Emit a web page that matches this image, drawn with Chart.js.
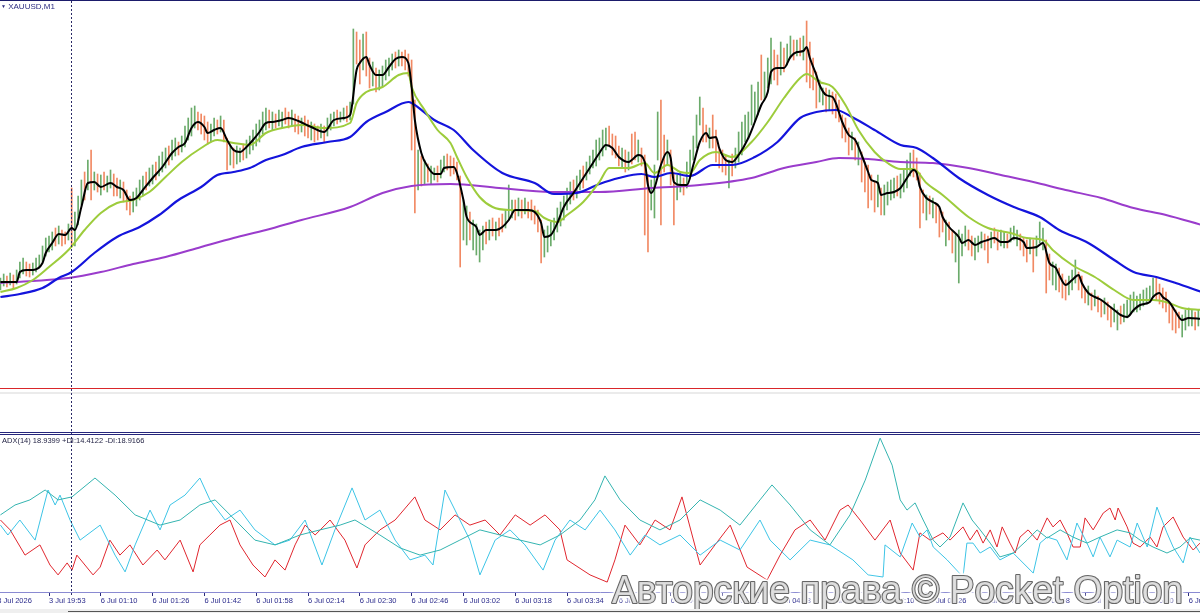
<!DOCTYPE html>
<html><head><meta charset="utf-8">
<script src="https://cdn.jsdelivr.net/npm/chart.js@4.4.1/dist/chart.umd.min.js"></script>
<style>
html,body{margin:0;padding:0;background:#fff;width:1200px;height:613px;overflow:hidden;position:relative;font-family:"Liberation Sans",Arial,sans-serif}
canvas{position:absolute;left:0}
#c1{top:0}
#c2{top:436px}
.hl{position:absolute;left:0;width:1200px}
.txt{position:absolute;white-space:nowrap;font-family:"Liberation Sans",Arial,sans-serif}
</style></head><body>
<canvas id="c1" width="1200" height="436"></canvas>
<canvas id="c2" width="1200" height="177"></canvas>
<div class="hl" style="top:0;height:1px;background:#1b1b6b"></div>
<div class="hl" style="top:432px;height:1px;background:#25257c"></div>
<div class="hl" style="top:434px;height:1px;background:#25257c"></div>
<div class="hl" style="top:609px;height:4px;background:#efefef"></div>
<div style="position:absolute;left:68px;top:611px;width:1132px;height:1px;background:#555"></div>
<div class="txt" style="left:1px;top:2px;font-size:8px;color:#2b2b80"><span style="font-size:5px;vertical-align:1px">&#9660;</span> XAUUSD,M1</div>
<div class="txt" style="left:2px;top:436px;font-size:7.5px;color:#1e1e40">ADX(14) 18.9399 +DI:14.4122 -DI:18.9166</div>
<script>
// ---------- DATA ----------
const tickLabels = ["3 Jul 2026","3 Jul 19:53","6 Jul 01:10","6 Jul 01:26","6 Jul 01:42","6 Jul 01:58","6 Jul 02:14","6 Jul 02:30","6 Jul 02:46","6 Jul 03:02","6 Jul 03:18","6 Jul 03:34","6 Jul 03:50","6 Jul 04:06","6 Jul 04:22","6 Jul 04:38","6 Jul 04:54","6 Jul 05:10","6 Jul 05:26","6 Jul 05:42","6 Jul 05:58","6 Jul 06:14","6 Jul 06:30","6 Jul 06:46"];
const barsPerLabel = 16;

const high = [
3224,3222,3226,3224,3227,3225,3230,3238,3242,3238,3236,3237,3242,3245,3254,3262,
3264,3268,3272,3274,3270,3268,3276,3312,3288,3304,3320,3328,3340,3350,3328,3326,
3325,3328,3324,3330,3326,3322,3320,3318,3310,3304,3308,3312,3320,3324,3328,3332,
3335,3338,3344,3348,3352,3354,3360,3362,3358,3364,3374,3382,3392,3394,3388,3386,
3384,3378,3376,3382,3380,3384,3380,3362,3354,3352,3354,3352,3356,3360,3364,3370,
3376,3380,3388,3392,3390,3388,3386,3390,3388,3392,3388,3390,3386,3384,3382,3384,
3380,3378,3376,3374,3376,3374,3382,3386,3388,3390,3388,3392,3394,3398,3471,3468,
3460,3466,3468,3442,3438,3432,3430,3434,3440,3442,3446,3448,3450,3448,3450,3446,
3440,3400,3350,3344,3340,3336,3334,3332,3334,3340,3344,3346,3344,3342,3338,3324,
3300,3294,3288,3280,3276,3270,3274,3278,3280,3282,3278,3282,3286,3290,3315,3300,
3300,3302,3300,3302,3298,3300,3294,3290,3280,3270,3274,3278,3282,3292,3298,3304,
3312,3318,3320,3324,3330,3334,3338,3344,3350,3360,3362,3370,3372,3374,3366,3364,
3354,3352,3350,3348,3366,3368,3360,3352,3345,3325,3320,3335,3388,3400,3365,3360,
3350,3328,3325,3328,3322,3338,3350,3364,3385,3403,3392,3375,3372,3385,3370,3352,
3350,3345,3340,3346,3352,3368,3378,3385,3388,3415,3408,3418,3445,3428,3442,3462,
3450,3445,3458,3452,3456,3464,3460,3460,3462,3464,3479,3458,3442,3428,3420,3412,
3412,3410,3408,3406,3400,3385,3382,3372,3368,3362,3358,3348,3338,3335,3325,3318,
3325,3312,3315,3318,3320,3322,3324,3326,3330,3340,3347,3350,3342,3327,3310,3305,
3304,3302,3297,3292,3288,3280,3278,3270,3266,3270,3266,3274,3270,3264,3262,3264,
3268,3266,3264,3268,3272,3268,3270,3268,3266,3272,3274,3270,3266,3262,3260,3262,
3260,3264,3278,3272,3260,3246,3238,3236,3232,3226,3220,3224,3230,3240,3228,3224,
3212,3214,3207,3210,3204,3200,3202,3198,3193,3196,3190,3194,3196,3200,3205,3208,
3204,3206,3210,3212,3214,3222,3222,3216,3212,3208,3197,3195,3190,3188,3185,3190,3192,3190,3188,3190];

const low = [
3212,3210,3214,3213,3215,3211,3216,3222,3226,3224,3223,3225,3228,3232,3238,3244,
3248,3250,3254,3256,3254,3256,3260,3253,3254,3275,3295,3300,3310,3300,3310,3308,
3305,3310,3308,3312,3304,3304,3302,3298,3290,3285,3288,3294,3300,3304,3310,3314,
3316,3320,3324,3328,3332,3335,3340,3344,3345,3348,3353,3360,3364,3372,3370,3366,
3360,3356,3358,3364,3366,3368,3358,3330,3335,3332,3336,3338,3340,3342,3346,3350,
3354,3358,3366,3370,3372,3370,3372,3374,3372,3376,3372,3374,3368,3366,3368,3364,
3362,3360,3358,3360,3362,3358,3364,3370,3374,3376,3378,3380,3378,3380,3396,3436,
3416,3430,3424,3412,3414,3408,3410,3414,3420,3424,3430,3432,3434,3434,3430,3424,
3350,3287,3310,3314,3316,3318,3316,3320,3318,3322,3328,3330,3324,3326,3320,3233,
3260,3255,3260,3250,3245,3238,3250,3256,3260,3264,3260,3264,3268,3272,3280,3282,
3280,3284,3282,3286,3282,3280,3276,3268,3237,3243,3248,3254,3260,3268,3274,3280,
3290,3296,3300,3302,3310,3312,3320,3326,3332,3334,3340,3344,3350,3354,3345,3342,
3334,3332,3328,3330,3336,3340,3338,3334,3265,3248,3290,3282,3340,3275,3328,3335,
3315,3275,3300,3308,3305,3312,3325,3340,3352,3375,3358,3358,3352,3352,3338,3332,
3328,3325,3312,3324,3332,3338,3345,3358,3362,3375,3378,3385,3400,3400,3412,3416,
3420,3415,3425,3428,3435,3442,3440,3444,3444,3440,3418,3412,3410,3392,3398,3395,
3388,3390,3386,3382,3378,3362,3358,3345,3350,3340,3335,3318,3308,3292,3300,3288,
3293,3285,3285,3295,3300,3302,3304,3302,3308,3312,3324,3323,3320,3272,3287,3280,
3286,3282,3277,3263,3268,3254,3260,3247,3238,3217,3244,3254,3250,3244,3240,3248,
3252,3250,3237,3252,3257,3250,3254,3252,3252,3258,3260,3254,3250,3244,3238,3246,
3228,3244,3257,3250,3207,3220,3215,3210,3208,3202,3200,3205,3210,3217,3210,3202,
3197,3195,3190,3194,3188,3183,3186,3180,3173,3178,3170,3176,3178,3182,3186,3188,
3188,3190,3194,3196,3198,3203,3200,3196,3192,3188,3177,3170,3167,3172,3163,3170,3174,3174,3170,3174];

// bar direction: g = close above open, r = close below open
const dir = ["rggrgrgggrrggggg","ggrgrrgrgggrgrgr","grggrrgrrrggggrg","grgggrggrgggggrr",
"rrggrgrrgrggrggg","ggggrgrggrrgrrgr","rgrrgrgggrggrggr","rgrrgrgggggrgrrr",
"rrgrgrggrggrrrrr","ggrggggrgrgrrggg","rgrgrrrrrggggggg","ggrggrgggggggrrr",
"rgrgrrgrrrgggrrg","rrggrgggggrrgrrr","rrgrggggggggrggg","rrgrggrgrgrrrrgg",
"rgrrrrrrgrgrrrrr","grggggrggggrrrrg","rgrrrgrrggggrrgg","grrgrrggrgggrrrg",
"rgggrrggrrrgggrr","rgrgrrgrrggrgggg","ggggggrrrrrrrrggggrg"].join("");

// moving averages: [bar index, price]
const maFast = [[1,3218],[6,3218],[7,3228],[9,3230],[11,3230],[14,3237],[15,3247],[17,3257],[19,3266],[21,3265],[23,3272],[24,3270],[26,3293],[28,3317],[30,3318],[32,3313],[35,3317],[37,3313],[39,3310],[41,3300],[43,3302],[45,3310],[48,3322],[51,3333],[54,3347],[56,3353],[58,3357],[60,3372],[62,3378],[64,3373],[65,3367],[67,3370],[69,3372],[71,3360],[73,3350],[75,3348],[77,3353],[79,3360],[81,3368],[83,3377],[85,3378],[88,3380],[90,3382],[93,3379],[97,3373],[101,3368],[104,3380],[107,3382],[109,3385],[111,3430],[112,3437],[114,3443],[115,3435],[117,3425],[119,3425],[121,3433],[123,3441],[125,3443],[127,3437],[128,3413],[129,3380],[131,3347],[133,3333],[135,3326],[137,3326],[138,3332],[141,3333],[142,3327],[144,3300],[145,3283],[148,3273],[149,3265],[151,3270],[154,3270],[156,3273],[158,3280],[160,3290],[164,3290],[166,3288],[168,3277],[169,3263],[171,3265],[173,3277],[175,3293],[178,3307],[181,3322],[184,3337],[186,3347],[188,3355],[190,3352],[192,3343],[195,3338],[196,3340],[198,3345],[200,3338],[201,3315],[202,3307],[203,3312],[205,3335],[207,3348],[208,3342],[209,3318],[211,3315],[213,3315],[215,3335],[217,3358],[219,3367],[220,3362],[222,3363],[223,3352],[225,3340],[227,3338],[229,3345],[232,3362],[234,3378],[236,3395],[238,3408],[239,3428],[241,3432],[243,3432],[245,3443],[247,3448],[249,3449],[250,3453],[251,3442],[253,3425],[254,3415],[256,3405],[258,3403],[259,3397],[261,3378],[263,3365],[265,3360],[267,3345],[269,3328],[270,3320],[272,3317],[273,3305],[275,3307],[277,3308],[279,3312],[281,3322],[283,3330],[284,3327],[285,3313],[287,3302],[289,3298],[291,3293],[292,3283],[294,3273],[297,3263],[298,3257],[300,3260],[302,3255],[304,3258],[306,3260],[308,3262],[310,3258],[312,3258],[314,3262],[317,3258],[318,3252],[321,3253],[323,3257],[325,3237],[327,3232],[328,3225],[330,3215],[332,3220],[334,3225],[335,3217],[337,3207],[339,3203],[341,3200],[343,3195],[345,3190],[347,3185],[349,3183],[351,3190],[353,3195],[356,3198],[357,3203],[359,3207],[360,3203],[362,3198],[364,3188],[366,3180],[368,3182],[372,3181]];
const maMid = [[1,3208],[6,3212],[11,3220],[16,3233],[22,3250],[27,3270],[32,3287],[37,3297],[42,3300],[47,3308],[52,3323],[57,3338],[63,3352],[68,3360],[73,3357],[78,3355],[83,3367],[88,3372],[94,3375],[101,3372],[109,3377],[111,3397],[114,3408],[119,3413],[124,3425],[127,3427],[128,3413],[132,3390],[136,3370],[140,3357],[142,3343],[145,3323],[149,3303],[153,3293],[158,3290],[166,3289],[169,3282],[173,3278],[176,3285],[181,3298],[186,3318],[189,3332],[195,3332],[200,3337],[203,3327],[207,3335],[211,3328],[214,3327],[217,3340],[222,3348],[227,3343],[233,3358],[238,3378],[243,3402],[248,3422],[250,3426],[254,3418],[258,3413],[262,3395],[266,3370],[271,3348],[275,3337],[279,3331],[283,3331],[287,3317],[292,3305],[300,3283],[306,3272],[313,3267],[318,3262],[323,3260],[326,3250],[332,3235],[339,3223],[345,3210],[351,3200],[357,3200],[361,3198],[366,3192],[372,3190]];
const maSlow = [[1,3203],[7,3206],[14,3212],[19,3222],[23,3228],[30,3247],[37,3263],[44,3273],[50,3285],[56,3300],[63,3313],[68,3325],[73,3328],[78,3332],[83,3340],[88,3345],[94,3353],[102,3358],[109,3363],[114,3378],[120,3388],[127,3398],[128,3397],[135,3380],[141,3370],[147,3350],[156,3327],[166,3317],[172,3306],[179,3307],[186,3316],[192,3322],[199,3326],[203,3323],[208,3327],[214,3324],[221,3335],[227,3335],[234,3343],[241,3358],[248,3382],[253,3388],[259,3390],[264,3383],[272,3368],[279,3355],[284,3352],[289,3342],[297,3322],[306,3305],[314,3293],[322,3283],[328,3270],[337,3257],[345,3240],[351,3228],[358,3223],[364,3217],[372,3208]];
const maLong = [[1,3217],[11,3219],[22,3222],[32,3228],[42,3236],[52,3243],[63,3253],[73,3262],[83,3270],[94,3280],[109,3293],[119,3307],[128,3314],[140,3316],[155,3312],[171,3308],[186,3308],[202,3312],[217,3315],[233,3322],[243,3332],[253,3338],[260,3342],[269,3341],[279,3338],[289,3337],[300,3332],[310,3325],[320,3318],[330,3310],[341,3302],[351,3292],[361,3285],[372,3275]];
const levelLine = 3112;
const levelLine2 = 3107;
const markerBar = 22.8;

// ADX(14): [bar index, value]
const adxMain = [[1,25.7],[5.5,29],[10.1,30.7],[14.8,34],[18.8,30.7],[23.1,31.7],[30.2,38],[36.4,32.3],[42.6,25.7],[50.3,22.3],[56.5,24],[62.6,29],[67.3,30.7],[73.5,24],[79.6,17.3],[85.8,15.7],[93.5,19],[99.7,20.7],[105.9,22.3],[110.5,24],[118.2,19],[124.4,14.7],[130.6,12.3],[136.8,14],[142.9,17.3],[149.1,20.7],[155.3,19],[161.5,17.3],[167.7,15.7],[173.8,19],[180,24],[184.6,30.7],[187.7,38.7],[192.4,30.7],[198.5,24],[204.7,20.7],[210.9,24],[217.1,30.7],[223.3,27.3],[229.4,22.3],[235.6,30.7],[239.3,35.7],[244.9,29],[251.1,20.7],[257.2,15.7],[263.4,25.7],[268.1,37.3],[272.7,51.3],[276.4,42.3],[278.9,30.7],[281,27.3],[283.5,29.7],[286,24],[289.1,17.3],[291.2,15],[294.3,18.3],[298.3,29.7],[301.1,24],[303.6,20.7],[306.7,16.3],[309.7,11.7],[313.8,13],[318.1,17.3],[321.2,20.7],[324.3,18],[328.3,20.7],[332.3,18.3],[336.6,16.3],[340.6,18.3],[345.9,20.7],[349.9,19.7],[353,17.3],[357,15],[361.3,13],[365.3,15],[368.4,18],[371.5,17.3]];
const plusDI = [[1,22.3],[3.3,19],[7,24],[11.7,17.3],[15.7,34],[17.9,29],[19.4,32.3],[22.5,24],[25.6,17.3],[31.8,22.3],[36.4,12.3],[39.5,6.7],[42.6,15.7],[47.2,27.3],[50.3,20.7],[53.4,29],[58,32.3],[62.6,38],[65.7,30.7],[70.4,24],[75,27.3],[79.6,20.7],[85.8,15.7],[90.4,17.3],[95.1,24],[100.3,9],[104.3,20.7],[109.6,34.7],[113.6,24],[118.2,27.3],[122.9,17.3],[127.5,10.7],[132.1,12.3],[134.6,9],[138.3,34],[141.4,27.3],[146,17.3],[149.1,5.7],[153.8,17.3],[158.4,20.7],[163,15.7],[168.6,7.3],[172.3,17.3],[176.9,24],[181.6,20.7],[186.2,27.3],[190.8,20.7],[195.5,12.3],[200.1,19],[204.7,15.7],[210.9,19],[217.1,12.3],[223.3,17.3],[229.4,14],[235.6,24],[238.7,17.3],[244.9,10.7],[251.1,17.3],[257.2,15.7],[264.3,10.7],[269,5.7],[273.6,5],[274.2,15.7],[278.9,11.7],[282.6,23],[285,18.3],[287.2,20.7],[289.1,15],[293.4,10.7],[298.3,5],[299.5,16.3],[301.4,16.3],[303.6,13],[306.7,15],[309.7,10.7],[313.8,13],[320,6.3],[322.1,16.3],[324.3,18.3],[327.3,17.3],[330.4,10.7],[333.5,23],[336.6,16.3],[338.5,11.7],[340.6,18.3],[343.7,11.7],[345.9,17.3],[349.9,15],[352.1,23],[355.2,15],[358.2,28.3],[361.3,19.7],[363.2,15],[366.3,9.7],[368.4,18.3],[371.5,13]];
const minusDI = [[1,24],[4,20.7],[8.6,12.3],[13.2,15.7],[16.3,9],[18.8,5.7],[21.6,9.7],[23.1,7.3],[24.6,12.3],[27.1,9],[29.6,5.7],[31.8,8.3],[34.8,17.3],[37.9,12.3],[41,15.7],[45,9],[49.4,14],[51.8,10.7],[56.5,17.3],[60.5,6.7],[62.6,15.7],[65.7,19],[68.8,22.3],[71.9,24],[75,15.7],[79,9],[82.7,5],[85.8,10.7],[88.9,7.3],[92,15.7],[95.1,22.3],[98.2,19],[102.8,24],[107.4,17.3],[111.1,8],[113.6,15.7],[118.2,20.7],[122.9,24],[129,31.7],[132.1,24],[136.8,20.7],[141.4,25.7],[146,22.3],[150.7,24],[155.3,19],[160,25.7],[164.6,22.3],[169.2,25.7],[173.8,20.7],[176,10.7],[183.1,5.7],[188.4,3.3],[190.8,10.7],[193.9,22.3],[198.5,15.7],[203.2,24],[207.8,20.7],[211.5,31.7],[217.1,9],[221.7,15.7],[226.4,22.3],[231.6,8.3],[237.8,4],[241.8,12.3],[246.4,20.7],[251.1,24],[255.7,17.3],[260.3,27.3],[262.8,29],[266.5,24],[271.1,17.3],[275.8,24],[278.9,13],[282.9,7.3],[285,19.7],[288.1,17.3],[292.1,19.7],[294.3,17.3],[298.3,21.7],[300.5,17.3],[302.6,20.7],[304.5,16.3],[306.7,20.7],[308.8,15],[310.4,21.7],[312.8,16.3],[314.4,13],[315.9,18.3],[318.4,20.7],[321.2,17.3],[324.3,24.7],[326.1,21.7],[328.3,24],[330.4,19.7],[332.3,15],[334.5,15],[336,24.7],[338.5,20.7],[341.6,26.3],[343.7,28],[345.3,24],[346.2,28],[349,21.7],[350.8,16.3],[353,15],[356.1,18.3],[358.2,15],[360.1,21.7],[363.2,25],[366.3,18.3],[369.4,14],[371.5,16.3]];
const watermark = "Авторские права © Pocket Option";

// ---------- CHARTS ----------
const X_MIN = 0.865, X_MAX = 371.5;
const GREEN = 'rgba(30,128,30,0.66)', RED = 'rgba(236,96,44,0.74)';
const pts = a => a.map(([x, y]) => ({x, y}));
const lineDs = (data, color, order, width, smooth) => ({
  type: 'line', data: pts(data), borderColor: color, borderWidth: width, pointRadius: 0,
  cubicInterpolationMode: smooth ? 'monotone' : 'default', tension: 0, order, fill: false
});

const marker = {
  id: 'marker',
  beforeDatasetsDraw(chart, args, opts) {
    const ctx = chart.ctx, y = chart.scales.y;
    if (opts.levels) {
      ctx.save();
      ctx.fillStyle = '#ebebeb';
      ctx.fillRect(0, Math.round(y.getPixelForValue(levelLine2)) - 1, chart.width, 2);
      ctx.fillStyle = '#d9262a';
      ctx.fillRect(0, Math.round(y.getPixelForValue(levelLine)), chart.width, 1);
      ctx.restore();
    }
  },
  afterDatasetsDraw(chart, args, opts) {
    const ctx = chart.ctx;
    const x = Math.round(chart.scales.x.getPixelForValue(markerBar)) + 0.5;
    ctx.save();
    ctx.strokeStyle = '#2a2a66'; ctx.lineWidth = 1; ctx.setLineDash([2, 2]);
    ctx.beginPath(); ctx.moveTo(x, 1); ctx.lineTo(x, opts.bottom); ctx.stroke();
    ctx.restore();
  }
};

const wmPlugin = {
  id: 'wm',
  afterDraw(chart) {
    const ctx = chart.ctx;
    ctx.save();
    ctx.font = '39px "Liberation Sans", Arial, sans-serif';
    const w = ctx.measureText(watermark).width;
    ctx.translate(612, 603 - 436);
    ctx.scale(571 / w, 1);
    ctx.lineJoin = 'round';
    ctx.shadowColor = 'rgba(255,255,255,1)'; ctx.shadowBlur = 5;
    ctx.strokeStyle = 'rgba(255,255,255,0.9)'; ctx.lineWidth = 5; ctx.strokeText(watermark, 0, 0);
    ctx.shadowBlur = 0;
    ctx.strokeStyle = 'rgba(85,85,85,0.9)'; ctx.lineWidth = 2.2; ctx.strokeText(watermark, 0, 0);
    ctx.fillStyle = 'rgba(222,222,222,0.95)'; ctx.fillText(watermark, 0, 0);
    ctx.restore();
  }
};

const barData = high.map((h, i) => ({x: i, y: [low[i], h]}));
const barColors = high.map((h, i) => dir[i] === 'g' ? GREEN : RED);

new Chart(document.getElementById('c1'), {
  type: 'line',
  data: { datasets: [
    lineDs(maFast, '#000000', 1, 2, true),
    lineDs(maMid, '#9dcc3c', 2, 2, true),
    lineDs(maSlow, '#1414dc', 3, 2.2, true),
    lineDs(maLong, '#9a3ccc', 4, 2, true),
    { type: 'bar', data: barData, backgroundColor: barColors, borderWidth: 0, barThickness: 1, order: 5, grouped: false }
  ]},
  options: {
    responsive: false, animation: false, devicePixelRatio: 1, events: [],
    layout: { padding: { left: 0, right: 0, top: 0, bottom: 6 } },
    plugins: { legend: { display: false }, tooltip: { enabled: false }, marker: { levels: true, bottom: 436 } },
    scales: {
      x: { type: 'linear', min: X_MIN, max: X_MAX, bounds: 'data', offset: false, display: false },
      y: { type: 'linear', min: 3070, max: 3500, display: false }
    }
  },
  plugins: [marker]
});

new Chart(document.getElementById('c2'), {
  type: 'line',
  data: { datasets: [
    lineDs(adxMain, '#34b4b0', 1, 1, false),
    lineDs(plusDI, '#3cc4e6', 2, 1, false),
    lineDs(minusDI, '#e0262e', 3, 1, false)
  ]},
  options: {
    responsive: false, animation: false, devicePixelRatio: 1, events: [],
    layout: { padding: 0 },
    plugins: { legend: { display: false }, tooltip: { enabled: false }, marker: { levels: false, bottom: 160 } },
    scales: {
      x: { type: 'linear', min: X_MIN, max: X_MAX, bounds: 'data', offset: false,
        afterBuildTicks: s => { s.ticks = tickLabels.map((_, k) => ({ value: k * barsPerLabel })); },
        afterFit: s => { s.height = 21; s.paddingLeft = 0; s.paddingRight = 0; },
        grid: { display: true, drawOnChartArea: false, drawTicks: true, tickLength: 4, color: '#2a2a7a', lineWidth: 1 },
        border: { display: true, color: '#8a8ad2', width: 1 },
        ticks: { autoSkip: false, maxRotation: 0, minRotation: 0, align: 'start', padding: 0, color: '#2b2b8c',
          font: { family: 'Liberation Sans', size: 7.5 }, callback: (v, i) => tickLabels[i] }
      },
      y: { type: 'linear', min: 0, max: 52, display: false }
    }
  },
  plugins: [marker, wmPlugin]
});
</script>
</body></html>
